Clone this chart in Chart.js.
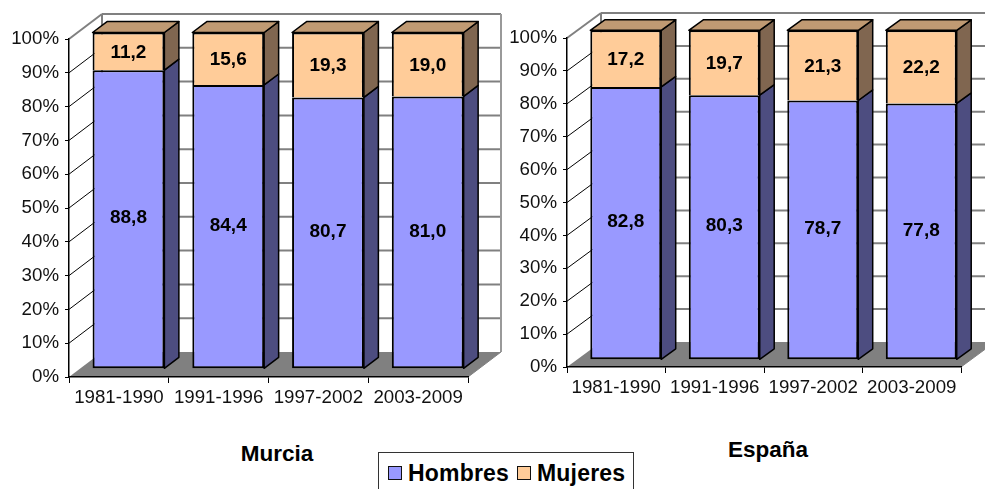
<!DOCTYPE html>
<html>
<head>
<meta charset="utf-8">
<script src="https://cdn.jsdelivr.net/npm/chart.js@4"></script>
<style>
html, body { margin: 0; padding: 0; width: 985px; height: 489px; overflow: hidden; background: #fff; }
canvas { position: absolute; top: 0; }
#chart1 { left: 0; }
#chart2 { left: 505px; }
.place { position: absolute; font: bold 22.5px "Liberation Sans", Arial, sans-serif; color: #000; transform: translateX(-50%); white-space: nowrap; }
#legend { position: absolute; left: 378px; top: 452px; width: 254px; height: 50px; border: 1px solid #333; font: bold 23px "Liberation Sans", Arial, sans-serif; }
#legend i { position: absolute; top: 13px; width: 12px; height: 12px; border: 1px solid #111; }
#legend span { position: absolute; top: 7px; letter-spacing: 0.2px; }
</style>
</head>
<body>
<canvas id="chart1" width="510" height="420"></canvas>
<canvas id="chart2" width="480" height="420"></canvas>
<div class="place" id="title1" style="left:277px; top:441px"></div>
<div class="place" id="title2" style="left:768px; top:437px"></div>
<div id="legend"></div>

<script>
var periods = ['1981-1990', '1991-1996', '1997-2002', '2003-2009'];
var seriesNames = ['Hombres', 'Mujeres'];
var murciaHombres = [88.8, 84.4, 80.7, 81.0];
var murciaMujeres = [11.2, 15.6, 19.3, 19.0];
var espanaHombres = [82.8, 80.3, 78.7, 77.8];
var espanaMujeres = [17.2, 19.7, 21.3, 22.2];

var faceColors = ['#9999FF', '#FFCC99'];
var sideColors = ['#4D4D80', '#806650'];
var topColor = '#C09A73';
var labelNudge = [-1, 1];

document.getElementById('title1').textContent = 'Murcia';
document.getElementById('title2').textContent = 'España';

// html legend, it sits between the two charts
var legendEl = document.getElementById('legend');
var swatchX = [9, 138];
var textX = [29, 158];
seriesNames.forEach(function (name, i) {
	var sw = document.createElement('i');
	sw.style.left = swatchX[i] + 'px';
	sw.style.background = faceColors[i];
	legendEl.appendChild(sw);
	var txt = document.createElement('span');
	txt.style.left = textX[i] + 'px';
	txt.textContent = name;
	legendEl.appendChild(txt);
});

function poly(ctx, pts, fill, stroke, lineW) {
	ctx.beginPath();
	ctx.moveTo(pts[0][0], pts[0][1]);
	for (var i = 1; i < pts.length; i++) ctx.lineTo(pts[i][0], pts[i][1]);
	ctx.closePath();
	if (fill) { ctx.fillStyle = fill; ctx.fill(); }
	if (stroke) { ctx.strokeStyle = stroke; ctx.lineWidth = lineW; ctx.stroke(); }
}

function line(ctx, x1, y1, x2, y2, color, w) {
	ctx.beginPath();
	ctx.moveTo(x1, y1);
	ctx.lineTo(x2, y2);
	ctx.strokeStyle = color;
	ctx.lineWidth = w;
	ctx.stroke();
}

// walls, floor and 3d sides of the bars
var box3d = {
	id: 'box3d',
	beforeDraw: function (chart, args, opts) {
		var ctx = chart.ctx, a = chart.chartArea, y = chart.scales.y;
		var dx = opts.depth[0], dy = opts.depth[1];
		ctx.save();
		poly(ctx, [[a.left, a.bottom], [a.left + dx, a.bottom + dy], [a.right + dx, a.bottom + dy], [a.right, a.bottom]], '#808080');
		y.ticks.forEach(function (t) {
			var py = y.getPixelForValue(t.value);
			if (t.value > 0) {
				var top = t.value === 100;
				line(ctx, a.left, py, a.left + dx, py + dy, top ? '#808080' : '#000', top ? 2 : 1);
				line(ctx, a.left + dx, py + dy, a.right + dx, py + dy, '#808080', 2);
			}
		});
		line(ctx, a.left + dx, a.top + dy, a.left + dx, a.bottom + dy, '#808080', 2);
		line(ctx, a.right + dx, a.top + dy, a.right + dx, a.bottom + dy, '#999999', 2);
		line(ctx, a.right, a.bottom, a.right + dx, a.bottom + dy, '#808080', 1);
		ctx.restore();
	},
	beforeDatasetsDraw: function (chart, args, opts) {
		var ctx = chart.ctx, base = chart.chartArea.bottom;
		var sx = opts.barDepth[0], sy = opts.barDepth[1];
		ctx.save();
		// bars stand a bit inside the box, in front of the back wall
		ctx.translate(opts.shift[0], opts.shift[1] + base * (1 - opts.squeeze));
		ctx.scale(1, opts.squeeze);
		ctx.lineJoin = 'round';
		chart.data.datasets.forEach(function (ds, d) {
			chart.getDatasetMeta(d).data.forEach(function (bar) {
				var r = bar.x + bar.width / 2, l = bar.x - bar.width / 2;
				poly(ctx, [[r, bar.y], [r + sx, bar.y + sy], [r + sx, bar.base + sy], [r, bar.base]], sideColors[d], '#000', 1.5);
				if (d === chart.data.datasets.length - 1) {
					poly(ctx, [[l, bar.y], [l + sx, bar.y + sy], [r + sx, bar.y + sy], [r, bar.y]], topColor, '#000', 1.5);
				}
			});
		});
	},
	afterDatasetsDraw: function (chart) {
		var ctx = chart.ctx;
		ctx.font = 'bold 19px "Liberation Sans", Arial, sans-serif';
		ctx.fillStyle = '#000';
		ctx.textAlign = 'center';
		ctx.textBaseline = 'middle';
		chart.data.datasets.forEach(function (ds, d) {
			chart.getDatasetMeta(d).data.forEach(function (bar, i) {
				ctx.fillText(ds.data[i].toFixed(1).replace('.', ','), bar.x, (bar.y + bar.base) / 2 + labelNudge[d]);
			});
		});
		ctx.restore();
	}
};

function makeChart(id, hombres, mujeres, pad, axisBottom, opts) {
	return new Chart(document.getElementById(id).getContext('2d'), {
		type: 'bar',
		plugins: [box3d],
		data: {
			labels: periods,
			datasets: [
				// lower bar keeps its bottom edge, upper one shares the edge between them
				{ label: seriesNames[0], data: hombres, backgroundColor: faceColors[0], borderColor: '#000', borderWidth: 2, borderSkipped: false, clip: false },
				{ label: seriesNames[1], data: mujeres, backgroundColor: faceColors[1], borderColor: '#000', borderWidth: 2, borderSkipped: 'bottom', clip: false }
			]
		},
		options: {
			responsive: false,
			animation: false,
			barPercentage: 0.72,
			categoryPercentage: 1,
			layout: { padding: { left: 0, top: pad.top, right: pad.right, bottom: 0 } },
			scales: {
				x: {
					stacked: true,
					border: { color: '#000', width: 1.5 },
					grid: { drawOnChartArea: false, color: '#000', tickLength: 6, tickColor: '#000' },
					ticks: { color: '#111', padding: 4, maxRotation: 0, autoSkip: false, font: { family: '"Liberation Sans", Arial, sans-serif', size: 18.7 } },
					afterFit: function (s) { s.height = axisBottom; }
				},
				y: {
					stacked: true,
					min: 0,
					max: 100,
					border: { color: '#000', width: 1.5 },
					grid: { drawOnChartArea: false, color: '#000', tickLength: 4, tickColor: '#000' },
					ticks: {
						stepSize: 10,
						color: '#111',
						padding: 6,
						font: { family: '"Liberation Sans", Arial, sans-serif', size: 18.7 },
						callback: function (v) { return v + '%'; }
					},
					afterFit: function (s) { s.width = pad.left; }
				}
			},
			plugins: {
				legend: { display: false },
				title: { display: false },
				tooltip: { enabled: false },
				box3d: opts
			}
		}
	});
}

var murciaChart = makeChart('chart1', murciaHombres, murciaMujeres,
	{ left: 69, top: 39, right: 42 }, 43,
	{ depth: [33, -25], barDepth: [14.5, -11], shift: [9.6, -8.2], squeeze: 0.995 });

var espanaChart = makeChart('chart2', espanaHombres, espanaMujeres,
	{ left: 62, top: 38, right: 24 }, 53,
	{ depth: [34, -25], barDepth: [14.5, -10.5], shift: [9.5, -7.2], squeeze: 1.0015 });
</script>
</body>
</html>
